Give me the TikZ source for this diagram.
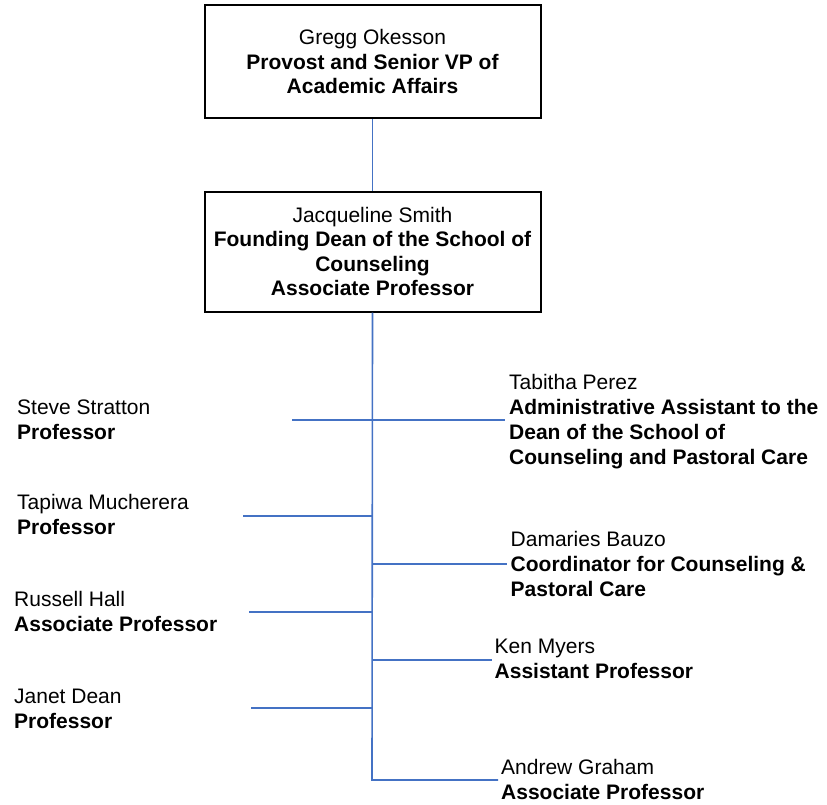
\documentclass[tikz,border=0pt]{standalone}
\usepackage{fontspec}
\setmainfont{Liberation Sans}
\definecolor{linkblue}{HTML}{4472C4}
\tikzset{
  orgbox/.style={draw=black, line width=2pt, minimum width=336pt, minimum height=113pt,
    align=center, inner sep=0pt, font=\fontsize{21}{24.5}\selectfont},
  person/.style={anchor=base west, inner sep=0pt, font=\fontsize{21}{25}\selectfont},
  link/.style={draw=linkblue, line width=1.6pt}
}
\newcommand{\twoline}[2]{\vtop{\hbox{#1}\hbox{\bfseries #2}}}
\begin{document}
\begin{tikzpicture}[x=1pt, y=-1pt]
\useasboundingbox (0,0) rectangle (827,805);
% boxes
\node[orgbox] (provost) at (372.5,61.7) {Gregg Okesson\\\textbf{Provost and Senior VP of}\\\textbf{Academic Affairs}};
\node[orgbox, minimum height=120pt] (dean) at (372.5,251.7) {Jacqueline Smith\\\textbf{Founding Dean of the School of}\\\textbf{Counseling}\\\textbf{Associate Professor}};
% people
\node[person] (steve) at (17,414) {\twoline{Steve Stratton}{Professor}};
\node[person] (tapiwa) at (17,509.5) {\twoline{Tapiwa Mucherera}{Professor}};
\node[person] (russell) at (14,606) {\twoline{Russell Hall}{Associate Professor}};
\node[person] (janet) at (14,703) {\twoline{Janet Dean}{Professor}};
\node[person] (tabitha) at (509,389) {\vtop{\hbox{Tabitha Perez}\hbox{\bfseries Administrative Assistant to the}\hbox{\bfseries Dean of the School of}\hbox{\bfseries Counseling and Pastoral Care}}};
\node[person] (damaries) at (510.5,546) {\vtop{\hbox{Damaries Bauzo}\hbox{\bfseries Coordinator for Counseling \&}\hbox{\bfseries Pastoral Care}}};
\node[person] (ken) at (494.5,653.5) {\twoline{Ken Myers}{Assistant Professor}};
\node[person] (andrew) at (501,774) {\twoline{Andrew Graham}{Associate Professor}};
% connector coordinates
\coordinate (jS) at (372,420);
\coordinate (jT) at (372,516);
\coordinate (jD) at (372,564);
\coordinate (jR) at (372,612);
\coordinate (jK) at (372,660);
\coordinate (jJ) at (372,708);
\coordinate (jA) at (372,780);
\coordinate (eS) at (292,420);
\coordinate (eTab) at (505,420);
\coordinate (eT) at (243,516);
\coordinate (eD) at (507,564);
\coordinate (eR) at (249,612);
\coordinate (eK) at (492,660);
\coordinate (eJ) at (251,708);
\coordinate (eA) at (498,780);
% connectors
\draw[link] (provost.south) -- (dean.north);
\draw[link] (dean.south) -- (jA) -- (eA);
\draw[link] (eS) -- (eTab);
\draw[link] (jT) -- (eT);
\draw[link] (jD) -- (eD);
\draw[link] (jR) -- (eR);
\draw[link] (jK) -- (eK);
\draw[link] (jJ) -- (eJ);
\end{tikzpicture}
\end{document}
